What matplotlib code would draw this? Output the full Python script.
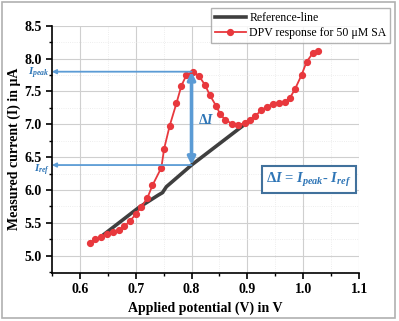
import numpy as np
import matplotlib.pyplot as plt
from matplotlib.patches import Rectangle
from matplotlib.ticker import MultipleLocator, FormatStrFormatter

plt.rcParams['font.family'] = ['Liberation Serif', 'DejaVu Serif']
plt.rcParams['mathtext.fontset'] = 'custom'
plt.rcParams['mathtext.rm'] = 'Liberation Serif:bold'
plt.rcParams['mathtext.it'] = 'Liberation Serif:italic:bold'
plt.rcParams['mathtext.bf'] = 'Liberation Serif:bold'

# DPV response (red)
dpv_x = [0.618, 0.628, 0.638, 0.648, 0.659, 0.670, 0.680, 0.690, 0.700, 0.710,
         0.721, 0.730, 0.746, 0.751, 0.761, 0.773, 0.782, 0.791, 0.802, 0.813,
         0.824, 0.833, 0.844, 0.851, 0.860, 0.872, 0.884, 0.895, 0.904, 0.914,
         0.925, 0.935, 0.946, 0.956, 0.967, 0.976, 0.985, 0.997, 1.006, 1.017, 1.027]
dpv_y = [5.20, 5.25, 5.29, 5.33, 5.36, 5.39, 5.45, 5.53, 5.63, 5.74,
         5.88, 6.07, 6.34, 6.63, 6.98, 7.32, 7.59, 7.75, 7.80, 7.74,
         7.60, 7.44, 7.28, 7.16, 7.07, 7.01, 6.99, 7.02, 7.06, 7.13,
         7.21, 7.27, 7.31, 7.33, 7.34, 7.40, 7.53, 7.75, 7.95, 8.08, 8.11]

# reference line (black)
ref_x = [0.644, 0.705, 0.740, 0.748, 0.755, 0.800, 0.900]
ref_y = [5.33, 5.73, 5.92, 5.96, 6.05, 6.38, 7.03]

peak_x = 0.80
i_peak = 7.80
i_ref = 6.38

blue = '#5b9bd5'
blue_txt = '#2e75b6'

fig = plt.figure(figsize=(3.99, 3.21), dpi=100)
ax = fig.add_axes([0.130, 0.150, 0.770, 0.770])

ax.plot(ref_x, ref_y, color='#3f3f3f', lw=2.6, label='Reference-line', zorder=3)
ax.plot(dpv_x, dpv_y, color='#e8383d', lw=1.3, marker='o', ms=4.2,
        label='DPV response for 50 μM SA', zorder=4)

# I_peak / I_ref guide lines
ax.annotate('', xy=(0.55, i_peak), xytext=(peak_x, i_peak),
            arrowprops=dict(arrowstyle='-|>', color=blue, lw=1.3, mutation_scale=6,
                            shrinkA=0, shrinkB=0), annotation_clip=False, zorder=5)
ax.annotate('', xy=(0.55, i_ref), xytext=(peak_x, i_ref),
            arrowprops=dict(arrowstyle='-|>', color=blue, lw=1.3, mutation_scale=6,
                            shrinkA=0, shrinkB=0), annotation_clip=False, zorder=5)
ax.annotate('', xy=(peak_x, i_peak), xytext=(peak_x, i_ref),
            arrowprops=dict(arrowstyle='<|-|>', color=blue, lw=2.6, mutation_scale=11,
                            shrinkA=0, shrinkB=0), zorder=5)
ax.text(0.5465, i_peak - 0.03, r'$I_{peak}$', color=blue_txt, fontsize=8, ha='right', va='center')
ax.text(0.5465, i_ref - 0.08, r'$I_{ref}$', color=blue_txt, fontsize=8, ha='right', va='center')
ax.text(0.811, 7.07, r'$\Delta I$', color=blue_txt, fontsize=10, ha='left', va='center')
ax.text(1.01, 6.16, r'$\Delta I$ = $I_{peak}$- $I_{ref}$', color=blue_txt, fontsize=10.5,
        ha='center', va='center',
        bbox=dict(boxstyle='square,pad=0.3', fc='white', ec='#41719c', lw=1.5))

ax.set_xlim(0.55, 1.1)
ax.set_ylim(4.74, 8.5)
ax.xaxis.set_major_locator(MultipleLocator(0.1))
ax.xaxis.set_minor_locator(MultipleLocator(0.05))
ax.yaxis.set_major_locator(MultipleLocator(0.5))
ax.yaxis.set_minor_locator(MultipleLocator(0.25))
ax.xaxis.set_major_formatter(FormatStrFormatter('%.1f'))
ax.yaxis.set_major_formatter(FormatStrFormatter('%.1f'))
ax.grid(which='major', color='#cfcfcf', lw=0.8)
ax.grid(which='minor', color='#e8e8e8', lw=0.6, ls=':')
ax.set_axisbelow(True)
for s in ['top', 'right']:
    ax.spines[s].set_visible(False)
for s in ['left', 'bottom']:
    ax.spines[s].set_linewidth(1.2)
ax.tick_params(which='major', direction='out', length=4, width=1.2, labelsize=10)
ax.tick_params(which='minor', direction='out', length=2.5, width=1)
for lbl in ax.get_xticklabels() + ax.get_yticklabels():
    lbl.set_fontweight('bold')

ax.set_xlabel('Applied potential (V) in V', fontsize=10, fontweight='bold', labelpad=4)
ax.set_ylabel('Measured current (I) in μA', fontsize=10, fontweight='bold', labelpad=2)

leg = ax.legend(loc='upper right', bbox_to_anchor=(0.992, 0.993), bbox_transform=fig.transFigure,
                fontsize=8.5, frameon=True, fancybox=False, edgecolor='#a0a0a0',
                handlelength=2.6, borderpad=0.3, labelspacing=0.3, handletextpad=0.3)
leg.get_frame().set_linewidth(1.0)

fig.patches.append(Rectangle((0.006, 0.008), 0.985, 0.985, transform=fig.transFigure,
                             fill=False, ec='#b0b0b0', lw=1.2))

fig.savefig('out.png', dpi=100)
